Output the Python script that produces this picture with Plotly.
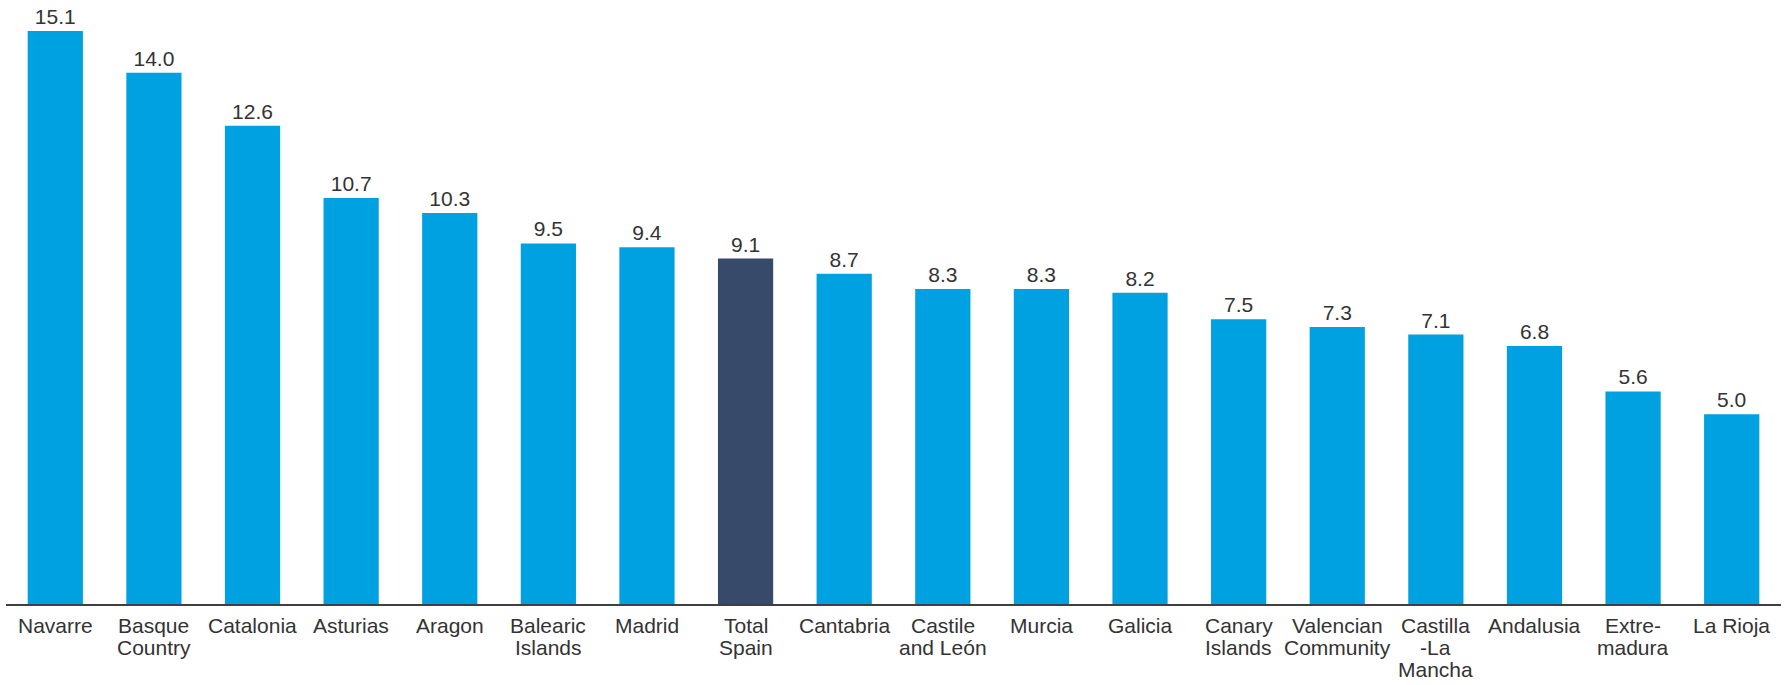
import plotly.graph_objects as go

regions = ['Navarre', 'Basque<br>Country', 'Catalonia', 'Asturias', 'Aragon', 'Balearic<br>Islands',
           'Madrid', 'Total<br>Spain', 'Cantabria', 'Castile<br>and León', 'Murcia', 'Galicia',
           'Canary<br>Islands', 'Valencian<br>Community', 'Castilla<br>-La<br>Mancha', 'Andalusia',
           'Extre-<br>madura', 'La Rioja']
values = [15.1, 14.0, 12.6, 10.7, 10.3, 9.5, 9.4, 9.1, 8.7, 8.3, 8.3, 8.2, 7.5, 7.3, 7.1, 6.8, 5.6, 5.0]

highlight = 'Total<br>Spain'
bar_colors = ['#374a6a' if r == highlight else '#00a1e0' for r in regions]

FONT = 'Liberation Sans, Arial'
TEXT_COLOR = '#333333'

fig = go.Figure(go.Bar(
    x=regions,
    y=values,
    marker=dict(color=bar_colors, line=dict(width=0)),
    text=['%.1f' % v for v in values],
    textposition='outside',
    textfont=dict(family=FONT, size=21, color=TEXT_COLOR),
    cliponaxis=False,
    showlegend=False,
))

# category labels written line by line, the reference uses tight line spacing
label_annotations = []
for region in regions:
    for i, line in enumerate(region.split('<br>')):
        label_annotations.append(dict(
            x=region, y=0, xref='x', yref='y',
            text=line, showarrow=False,
            xanchor='center', yanchor='top',
            yshift=-(8 + 22 * i),
            font=dict(family=FONT, size=21, color=TEXT_COLOR),
        ))

fig.update_layout(
    width=1788,
    height=685,
    margin=dict(l=6, r=7, t=10, b=81),
    plot_bgcolor='white',
    paper_bgcolor='white',
    bargap=0.44,
    font=dict(family=FONT, size=21, color=TEXT_COLOR),
    xaxis=dict(
        showline=True, linecolor='#404040', linewidth=1.5,
        ticks='', showgrid=False, showticklabels=False, automargin=False,
    ),
    yaxis=dict(
        range=[0, 15.65], visible=False, showgrid=False, zeroline=False,
    ),
    annotations=label_annotations,
)

# drop the default body margin so the chart sits at the page corner
fig.write_html('out.html', config={'displayModeBar': False},
               post_script="document.body.style.margin='0';")
